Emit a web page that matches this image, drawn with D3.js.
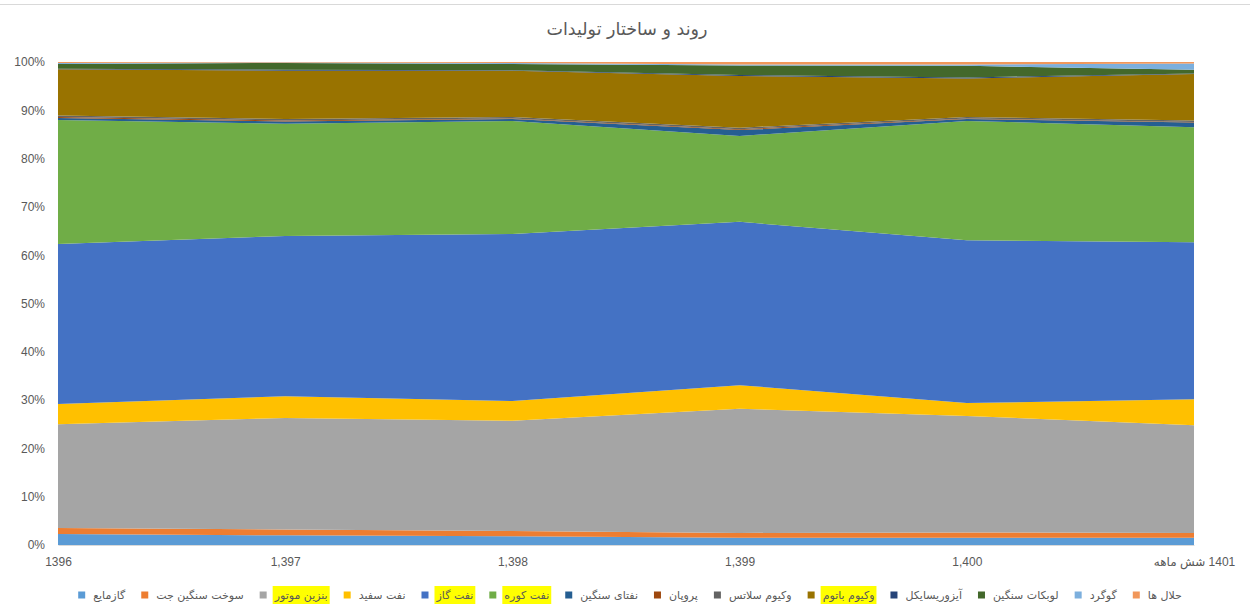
<!DOCTYPE html>
<html>
<head>
<meta charset="utf-8">
<script src="https://cdn.jsdelivr.net/npm/d3@7"></script>
<style>
  body { margin: 0; background: #fff; }
  svg { display: block; }
</style>
</head>
<body>
<svg></svg>
<script>
const width = 1250
const height = 611

let marge = {top: 62, bottom: 66, left: 58, right: 56}

// data (percent share of each product per year)
const years = ["1396", "1397", "1398", "1399", "1400", "1401"]
const yearLabels = ["1396", "1,397", "1,398", "1,399", "1,400", "1401 شش ماهه"]

const seriesNames = ["گازمایع", "سوخت سنگین جت", "بنزین موتور", "نفت سفید", "نفت گاز", "نفت کوره",
    "نفتای سنگین", "پروپان", "وکیوم سلاتس", "وکیوم باتوم", "آیزوریسایکل", "لوبکات سنگین", "گوگرد", "حلال ها"]
const highlighted = ["بنزین موتور", "نفت گاز", "نفت کوره", "وکیوم باتوم"]

const gasMaye = [2.3, 2.0, 1.8, 1.5, 1.5, 1.5]
const jetFuel = [1.2, 1.2, 1.1, 1.0, 1.1, 1.0]
const gasoline = [21.5, 23.1, 22.8, 25.7, 24.1, 22.3]
const kerosene = [4.2, 4.5, 4.1, 4.9, 2.7, 5.4]
const gasoil = [33.1, 33.2, 34.6, 33.8, 33.7, 32.5]
const fuelOil = [25.7, 23.2, 23.4, 17.8, 24.7, 23.8]
const heavyNaphtha = [0.4, 0.5, 0.4, 1.2, 0.4, 1.0]
const propane = [0.2, 0.2, 0.1, 0.2, 0.1, 0.1]
const vacuumSlack = [0.3, 0.3, 0.3, 0.3, 0.3, 0.3]
const vacuumBottom = [9.6, 10.0, 9.6, 10.7, 8.0, 9.6]
const isoRecycle = [0.1, 0.2, 0.1, 0.2, 0.2, 0.1]
const lubeHeavy = [1.0, 1.4, 1.3, 2.0, 2.4, 0.8]
const sulfur = [0.2, 0.1, 0.2, 0.2, 0.3, 1.3]
const solvents = [0.2, 0.1, 0.2, 0.5, 0.5, 0.3]

const seriesValues = [gasMaye, jetFuel, gasoline, kerosene, gasoil, fuelOil, heavyNaphtha,
    propane, vacuumSlack, vacuumBottom, isoRecycle, lubeHeavy, sulfur, solvents]

const colors = ["#5B9BD5", "#ED7D31", "#A5A5A5", "#FFC000", "#4472C4", "#70AD47", "#255E91",
    "#9E480E", "#636363", "#997300", "#264478", "#43682B", "#7CAFDD", "#F1975A"]

// build rows for d3.stack
let table = years.map(function (y, i) {
    let row = {year: y}
    seriesNames.forEach(function (name, j) { row[name] = seriesValues[j][i] })
    return row
})

const svg = d3.select('svg').attr('width', width).attr('height', height)
    .style('font-family', '"DejaVu Sans", "Liberation Sans", sans-serif')

// thin top border line
svg.append('line').attr('x1', 0).attr('x2', width).attr('y1', 4.5).attr('y2', 4.5)
    .attr('stroke', '#d9d9d9').attr('stroke-width', 1)

// title
svg.append('text')
    .attr('x', 627).attr('y', 35)
    .attr('text-anchor', 'middle')
    .attr('fill', '#595959')
    .style('font-size', '17.5px')
    .text('روند و ساختار تولیدات')

const x = d3.scalePoint().domain(years).range([marge.left, width - marge.right])
const y = d3.scaleLinear().domain([0, 1]).range([height - marge.bottom, marge.top])
const colorScale = d3.scaleOrdinal().domain(seriesNames).range(colors)

const stack = d3.stack().keys(seriesNames).offset(d3.stackOffsetExpand)
const layers = stack(table)

const area = d3.area()
    .x(function (d) { return x(d.data.year) })
    .y0(function (d) { return y(d[0]) })
    .y1(function (d) { return y(d[1]) })

svg.append('g').selectAll('path').data(layers).enter().append('path')
    .attr('d', area)
    .attr('fill', function (d) { return colorScale(d.key) })

// x axis
let xAxis = svg.append('g')
    .attr('transform', 'translate(0,' + (height - marge.bottom) + ')')
    .call(d3.axisBottom(x).tickSize(0).tickPadding(12).tickFormat(function (d, i) { return yearLabels[i] }))
xAxis.select('.domain').attr('stroke', '#d9d9d9')
xAxis.selectAll('text').attr('fill', '#595959').style('font-size', '12px')
    .style('font-family', '"Liberation Sans", "DejaVu Sans", sans-serif')
// last label reads right to left (number on the right)
xAxis.selectAll('text').filter(function (d, i) { return i === years.length - 1 })
    .attr('direction', 'rtl').style('unicode-bidi', 'embed')

// y axis
let yAxis = svg.append('g')
    .attr('transform', 'translate(' + (marge.left - 13) + ',0)')
    .call(d3.axisLeft(y).ticks(10).tickSize(0).tickPadding(0).tickFormat(d3.format('.0%')))
yAxis.select('.domain').remove()
yAxis.selectAll('text').attr('fill', '#595959').style('font-size', '12px')
    .style('font-family', '"Liberation Sans", sans-serif')

// legend
let legend = svg.append('g')
let cursor = 0
seriesNames.forEach(function (name, i) {
    let g = legend.append('g')
    let label = g.append('text')
        .attr('x', 15)
        .attr('y', 4)
        .attr('fill', '#595959')
        .style('font-size', '11px')
        .text(name)
    let w = label.node().getComputedTextLength()
    if (highlighted.indexOf(name) >= 0) {
        g.insert('rect', 'text')
            .attr('x', 13).attr('y', -9)
            .attr('width', w + 4).attr('height', 18)
            .attr('fill', '#FFFF00')
    }
    g.append('rect').attr('x', 0).attr('y', -3.5).attr('width', 7).attr('height', 7)
        .attr('fill', colorScale(name))
    g.attr('transform', 'translate(' + cursor + ',0)')
    cursor += 15 + w + 16
})
let legendWidth = cursor - 16
legend.attr('transform', 'translate(' + (630 - legendWidth / 2) + ',595)')
</script>
</body>
</html>
